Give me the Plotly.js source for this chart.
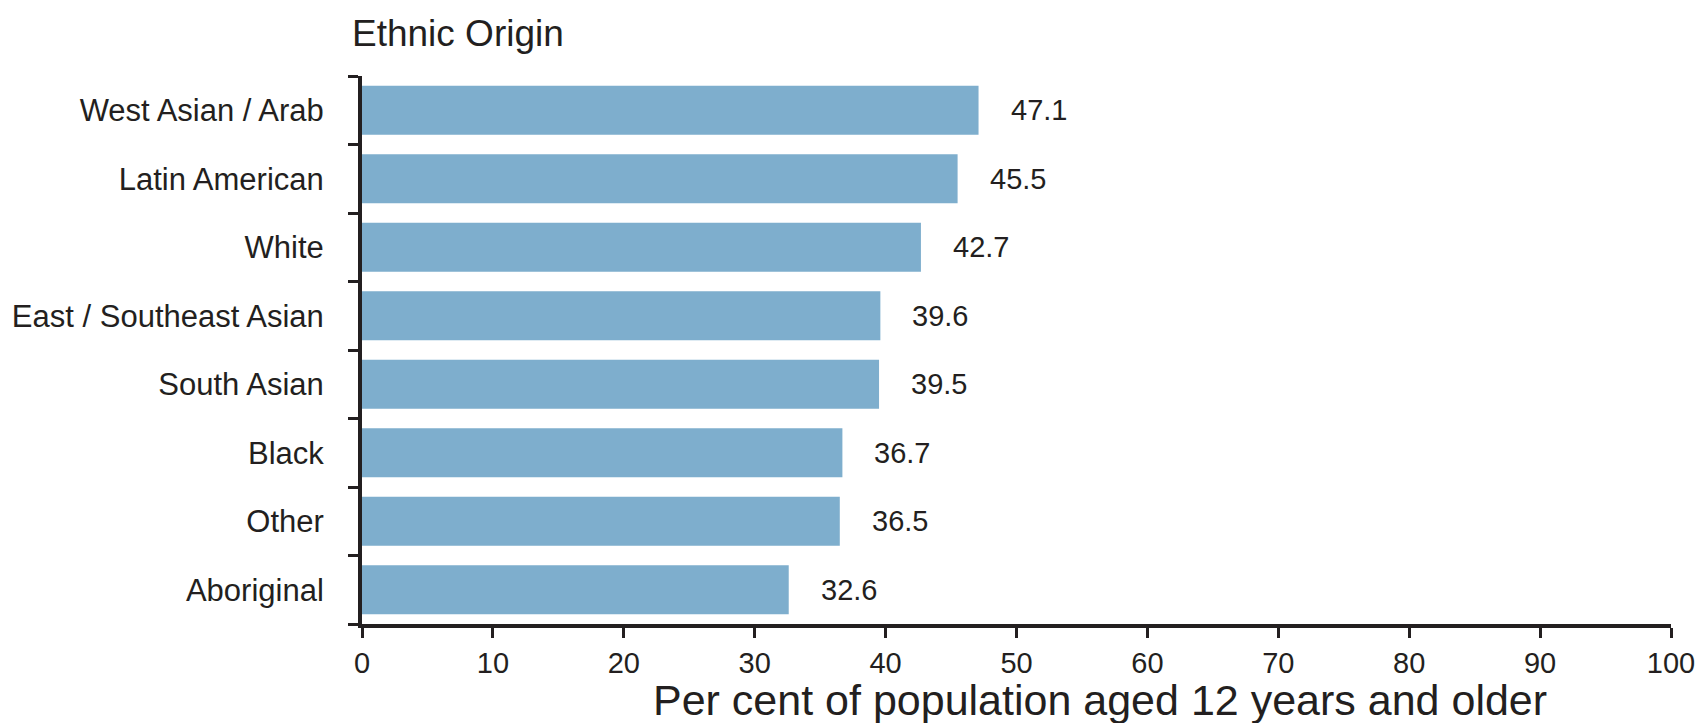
<!DOCTYPE html>
<html>
<head>
<meta charset="utf-8">
<script src="https://cdn.plot.ly/plotly-3.0.1.min.js"></script>
<style>
  html, body { margin: 0; padding: 0; background: #ffffff; }
  #chart { width: 1699px; height: 723px; }
</style>
</head>
<body>
<div id="chart"></div>
<script>
// Share of population aged 12+ by ethnic origin (per cent)
const categories = [
  "West Asian / Arab",
  "Latin American",
  "White",
  "East / Southeast Asian",
  "South Asian",
  "Black",
  "Other",
  "Aboriginal"
];
const values = [47.1, 45.5, 42.7, 39.6, 39.5, 36.7, 36.5, 32.6];
const xTickValues = [0, 10, 20, 30, 40, 50, 60, 70, 80, 90, 100];
const xAxisTitle = "Per cent of population aged 12 years and older";

const ink = "#231f20";
const barColor = "#7eaecd";
const fontFamily = "'Liberation Sans', Arial, sans-serif";

const trace = {
  type: "bar",
  orientation: "h",
  x: values,
  y: categories,
  marker: { color: barColor, line: { width: 0 } },
  hoverinfo: "x+y"
};

// value labels sit a little to the right of each bar end
const labels = values.map((v, i) => ({
  x: v,
  y: categories[i],
  xref: "x",
  yref: "y",
  text: v.toFixed(1),
  showarrow: false,
  xanchor: "left",
  yanchor: "middle",
  xshift: 30,
  font: { family: fontFamily, size: 29, color: ink }
}));

// x-axis caption, set off to the right of the plot centre
labels.push({
  text: xAxisTitle,
  xref: "paper",
  yref: "paper",
  x: 0.564,
  y: 0,
  xanchor: "center",
  yanchor: "middle",
  yshift: -76,
  showarrow: false,
  font: { family: fontFamily, size: 43, color: ink }
});

const layout = {
  width: 1699,
  height: 723,
  paper_bgcolor: "#ffffff",
  plot_bgcolor: "#ffffff",
  margin: { l: 362, r: 28, t: 76, b: 99, pad: 0 },
  showlegend: false,
  bargap: 0.285,
  font: { family: fontFamily, color: ink },
  title: {
    text: "Ethnic Origin",
    font: { family: fontFamily, size: 37, color: ink },
    xref: "container",
    yref: "container",
    x: 352 / 1699,
    xanchor: "left",
    y: 1 - 33 / 723,
    yanchor: "middle"
  },
  xaxis: {
    range: [0, 100],
    tickvals: xTickValues,
    ticktext: xTickValues.map(String),
    showgrid: false,
    zeroline: false,
    showline: true,
    linecolor: ink,
    linewidth: 4,
    ticks: "outside",
    ticklen: 10,
    tickwidth: 3,
    tickcolor: ink,
    tickfont: { family: fontFamily, size: 29, color: ink },
    fixedrange: true
  },
  yaxis: {
    categoryorder: "array",
    categoryarray: categories.slice().reverse(),
    autorange: false,
    range: [-0.5, categories.length - 0.5],
    showgrid: false,
    zeroline: false,
    showline: true,
    linecolor: ink,
    linewidth: 4,
    ticks: "outside",
    tickson: "boundaries",
    ticklen: 10,
    tickwidth: 3,
    tickcolor: ink,
    tickfont: { family: fontFamily, size: 31, color: ink },
    ticklabelstandoff: 28,
    fixedrange: true
  },
  annotations: labels
};

Plotly.newPlot("chart", [trace], layout, { displayModeBar: false, staticPlot: true });
</script>
</body>
</html>
